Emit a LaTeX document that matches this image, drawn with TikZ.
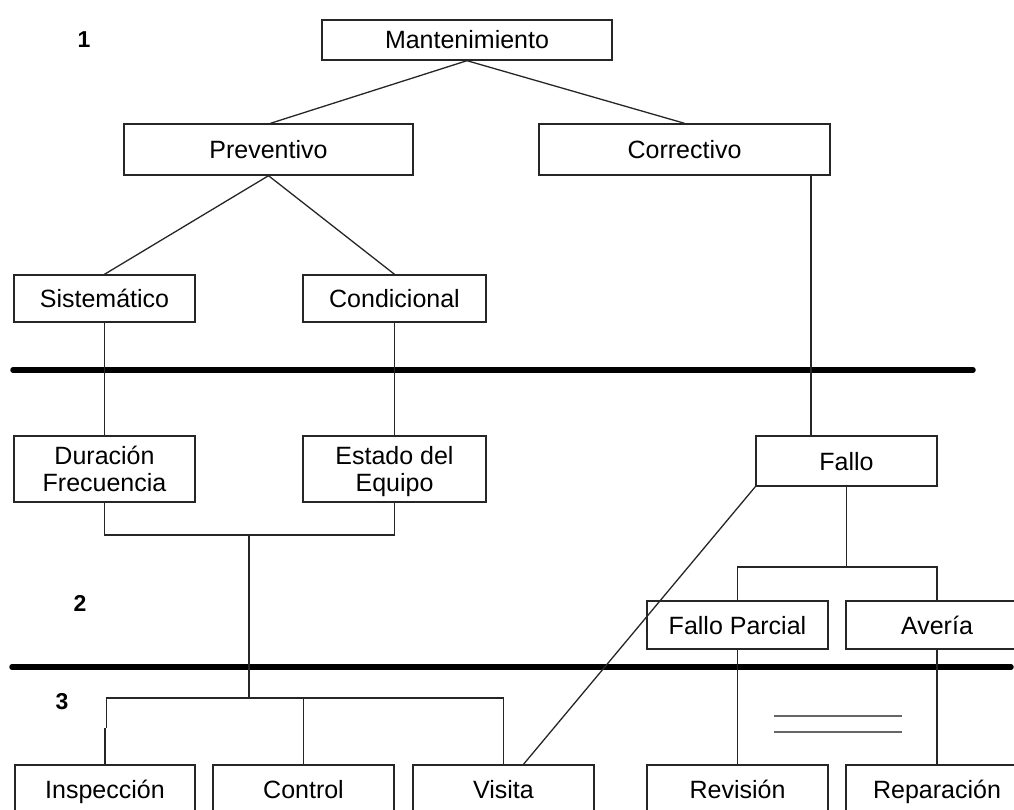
\documentclass[tikz,border=0pt]{standalone}
\usepackage{fontspec}
\setmainfont{Liberation Sans}
\newcommand\boxline[1]{\rule{0pt}{18pt}\smash{#1}}
\begin{document}
\begin{tikzpicture}[x=1pt,y=-1pt,
  box/.style={draw=black!85, line width=1.4pt, inner sep=0pt, align=center,
    font=\fontsize{25}{27}\selectfont},
  conn/.style={draw=black!85, line width=1.3pt},
  sep/.style={draw=black, line width=5.5pt, line cap=round},
  dbl/.style={draw=black!60, line width=2pt},
  lvl/.style={font=\fontsize{23}{26}\selectfont\bfseries}]
\useasboundingbox (0,0) rectangle (1014,810);
\clip (0,0) rectangle (1014,810);

% boxes
\node[box, minimum width=290pt, minimum height=40pt] (mant) at (467,40) {\boxline{Mantenimiento}};
\node[box, minimum width=289pt, minimum height=51pt] (prev) at (268.5,149.5) {\boxline{Preventivo}};
\node[box, minimum width=291pt, minimum height=51pt] (corr) at (684.5,149.5) {\boxline{Correctivo}};
\node[box, minimum width=181pt, minimum height=47pt] (sist) at (104.5,298.5) {\boxline{Sistemático}};
\node[box, minimum width=183pt, minimum height=47pt] (cond) at (394.5,298.5) {\boxline{Condicional}};
\node[box, minimum width=181pt, minimum height=66pt] (dur) at (104.5,469) {\boxline{Duración}\\\boxline{Frecuencia}};
\node[box, minimum width=183pt, minimum height=66pt] (est) at (394.5,469) {\boxline{Estado del}\\\boxline{Equipo}};
\node[box, minimum width=181pt, minimum height=50pt] (fallo) at (846.5,461) {\boxline{Fallo}};
\node[box, minimum width=181pt, minimum height=48pt] (fp) at (737.5,625) {\boxline{Fallo Parcial}};
\node[box, minimum width=182pt, minimum height=48pt] (av) at (937,625) {\boxline{Avería}};
\node[box, minimum width=180pt, minimum height=48pt] (insp) at (105,789) {\boxline{Inspección}};
\node[box, minimum width=181pt, minimum height=48pt] (ctrl) at (303.5,789) {\boxline{Control}};
\node[box, minimum width=181pt, minimum height=48pt] (vis) at (503.5,789) {\boxline{Visita}};
\node[box, minimum width=181pt, minimum height=48pt] (rev) at (737.5,789) {\boxline{Revisión}};
\node[box, minimum width=182pt, minimum height=48pt] (rep) at (937,789) {\boxline{Reparación}};

% level numbers
\node[lvl] (n1) at (84,40) {1};
\node[lvl] (n2) at (80,603) {2};
\node[lvl] (n3) at (62,702) {3};

% separators
\coordinate (s1a) at (13,370);
\coordinate (s1b) at (973,370);
\coordinate (s2a) at (12,667);
\coordinate (s2b) at (1011,667);
\draw[sep] (s1a) -- (s1b);
\draw[sep] (s2a) -- (s2b);

% junctions
\coordinate (j1) at (249,535);
\coordinate (j2) at (249,698);
\coordinate (j3) at (846.5,567);
\coordinate (cf) at (811,436);
\coordinate (jog) at (106.5,728);

% connectors
\draw[conn] (mant.south) -- ([xshift=2pt]prev.north);
\draw[conn] (mant.south) -- (corr.north);
\draw[conn] (prev.south) -- (sist.north);
\draw[conn] (prev.south) -- (cond.north);
\draw[conn] (sist.south) -- (dur.north);
\draw[conn] (cond.south) -- (est.north);
\draw[conn] (cf |- corr.south) -- (cf);
\draw[conn] (dur.south) |- (j1) -| (est.south);
\draw[conn] (j1) -- (j2);
\draw[conn] (insp.north) -- (insp.north |- jog);
\draw[conn] (jog) |- (j2) -| (vis.north);
\draw[conn] (ctrl.north) -- (ctrl.north |- j2);
\draw[conn] (fallo.south) -- (j3);
\draw[conn] (fp.north) |- (j3) -| (av.north);
\draw[conn] (fp.south) -- (rev.north);
\draw[conn] (av.south) -- (rep.north);
\draw[conn] (fallo.south west) -- ([xshift=20pt]vis.north);

% double line
\coordinate (d1a) at (774,716);
\coordinate (d1b) at (902,716);
\coordinate (d2a) at (774,732);
\coordinate (d2b) at (902,732);
\draw[dbl] (d1a) -- (d1b);
\draw[dbl] (d2a) -- (d2b);
\end{tikzpicture}
\end{document}
